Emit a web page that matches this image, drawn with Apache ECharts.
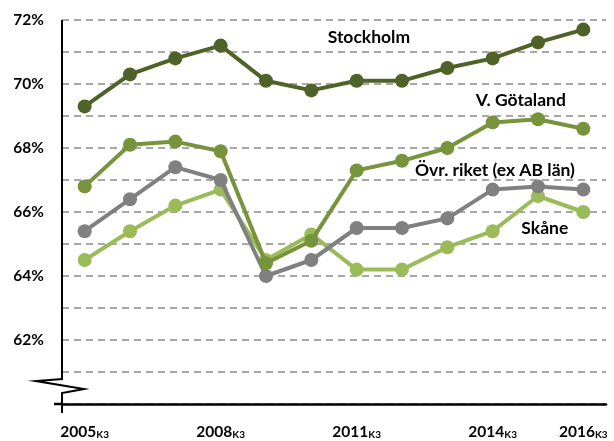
<!DOCTYPE html>
<html>
<head>
<meta charset="utf-8">
<script src="https://cdn.jsdelivr.net/npm/echarts@6/dist/echarts.min.js"></script>
<style>
  html, body { margin: 0; padding: 0; background: #fff; }
  #container { width: 614px; height: 441px; }
</style>
</head>
<body>
<div id="container"></div>
<script>
var dom = document.getElementById("container");
var myChart = echarts.init(dom);

// år (K3)
var years = [2005, 2006, 2007, 2008, 2009, 2010, 2011, 2012, 2013, 2014, 2015, 2016];
var xLabels = [2005, 2008, 2011, 2014, 2016];
var yLabels = [62, 64, 66, 68, 70, 72];

// andel i procent
var stockholm = [69.3, 70.3, 70.8, 71.2, 70.1, 69.8, 70.1, 70.1, 70.5, 70.8, 71.3, 71.7];
var vGotaland = [66.8, 68.1, 68.2, 67.9, 64.4, 65.1, 67.3, 67.6, 68.0, 68.8, 68.9, 68.6];
var ovrRiket  = [65.4, 66.4, 67.4, 67.0, 64.0, 64.5, 65.5, 65.5, 65.8, 66.7, 66.8, 66.7];
var skane     = [64.5, 65.4, 66.2, 66.7, 64.5, 65.3, 64.2, 64.2, 64.9, 65.4, 66.5, 66.0];

var FONT = 'Lato';

function pairs(vals) {
    return years.map(function (y, i) { return [y, vals[i]]; });
}

function makeSeries(name, vals, color, labelPos, z) {
    return {
        name: name,
        type: 'line',
        data: pairs(vals),
        z: z,
        symbol: 'circle',
        symbolSize: 14,
        lineStyle: { color: color, width: 4 },
        itemStyle: { color: color },
        animation: false,
        markPoint: {
            symbol: 'rect',
            symbolSize: 1,
            itemStyle: { color: 'rgba(0,0,0,0)' },
            label: {
                show: true,
                position: 'inside',
                formatter: name,
                color: '#000',
                fontFamily: FONT,
                fontWeight: 'bold',
                fontSize: 17.5
            },
            data: [{ coord: labelPos }]
        }
    };
}

option = {
    backgroundColor: '#fff',
    grid: { left: 62, top: 20, width: 544, height: 384 },
    xAxis: {
        type: 'value',
        min: 2004.5,
        max: 2016.5,
        axisLine: { show: true, lineStyle: { color: '#000', width: 2.5 } },
        axisTick: { show: false },
        splitLine: { show: false },
        axisLabel: {
            customValues: xLabels,
            margin: 20,
            formatter: function (v) { return '{a|' + v + '}{b|K3}'; },
            rich: {
                a: { fontFamily: FONT, fontWeight: 'bold', fontSize: 15.5, color: '#000' },
                b: { fontFamily: FONT, fontWeight: 'bold', fontSize: 10, color: '#000', verticalAlign: 'bottom', padding: [6, 0, 0, 0] }
            }
        }
    },
    yAxis: {
        type: 'value',
        min: 60,
        max: 72,
        interval: 1,
        axisLine: { show: false },
        axisTick: { show: false },
        splitLine: { show: true, lineStyle: { color: '#8c8c8c', width: 1.5, type: [7, 5] } },
        axisLabel: {
            margin: 18,
            fontFamily: FONT,
            fontWeight: 'bold',
            fontSize: 15.5,
            color: '#000',
            formatter: function (v) {
                return yLabels.indexOf(v) >= 0 ? v + '%' : '';
            }
        }
    },
    series: [
        makeSeries('Skåne', skane, '#9BBB59', [2015.15, 65.5], 2),
        makeSeries('Övr. riket (ex AB län)', ovrRiket, '#808080', [2014.05, 67.3], 3),
        makeSeries('V. Götaland', vGotaland, '#77933C', [2014.62, 69.5], 4),
        makeSeries('Stockholm', stockholm, '#4F6228', [2011.27, 71.47], 5)
    ]
};

myChart.setOption(option, true);

// y-axel med brytmarkering
var pTop = myChart.convertToPixel({ gridIndex: 0 }, [2004.5, 72]);
var pBot = myChart.convertToPixel({ gridIndex: 0 }, [2004.5, 60]);
var ax = pTop[0], yTop = pTop[1], yBot = pBot[1];
myChart.setOption({
    graphic: [
        {
            type: 'polyline',
            z: 100,
            shape: { points: [[ax, yTop], [ax, yBot - 25], [ax - 26, yBot - 23], [ax + 22, yBot - 15], [ax, yBot - 11], [ax, yBot + 9]] },
            style: { stroke: '#000', lineWidth: 2, fill: null }
        },
        {
            type: 'line',
            z: 100,
            shape: { x1: ax - 8, y1: yBot, x2: ax, y2: yBot },
            style: { stroke: '#000', lineWidth: 2.5 }
        }
    ]
});
</script>
</body>
</html>
